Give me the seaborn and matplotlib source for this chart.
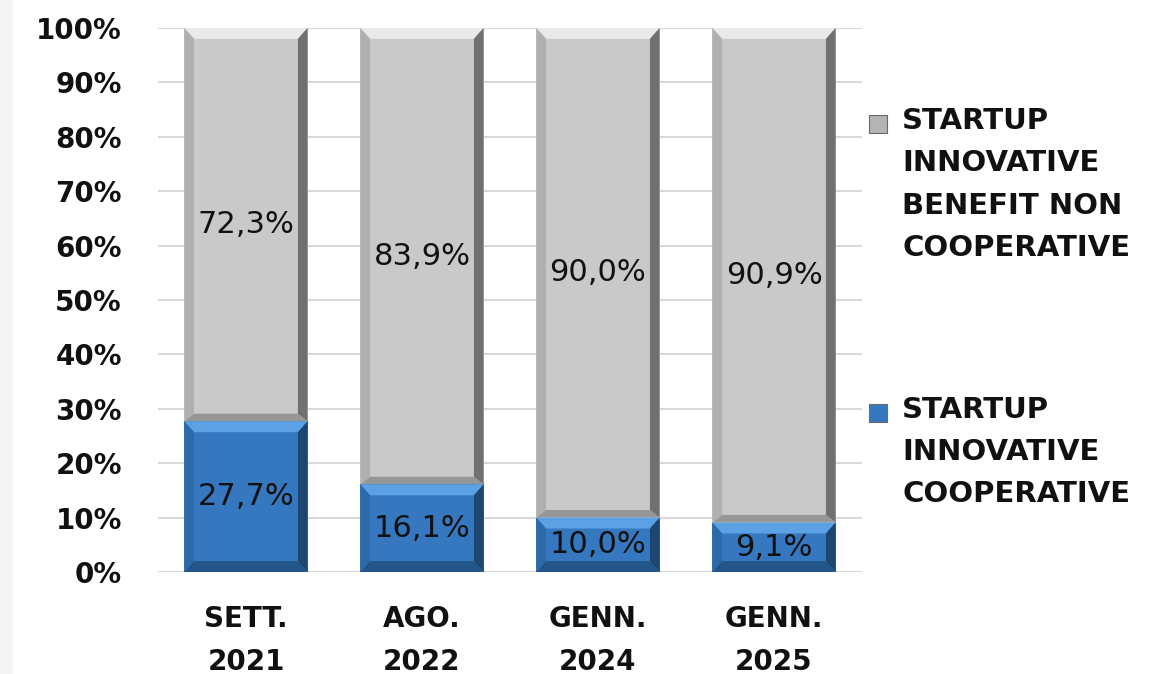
import numpy as np
import pandas as pd
import matplotlib
matplotlib.use("Agg")
import matplotlib.pyplot as plt
import seaborn as sns
from matplotlib.patches import Polygon, Rectangle
from matplotlib.ticker import FuncFormatter

# ── Data ─────────────────────────────────────────────────────────────
periods     = ["SETT.\n2021", "AGO.\n2022", "GENN.\n2024", "GENN.\n2025"]
coop        = [27.7, 16.1, 10.0, 9.1]
non_coop    = [72.3, 83.9, 90.0, 90.9]
label_coop  = "STARTUP\nINNOVATIVE\nCOOPERATIVE"
label_non   = "STARTUP\nINNOVATIVE\nBENEFIT NON\nCOOPERATIVE"

GRAY  = "#c9c9c9"
BLUE  = "#3578c0"

df = pd.DataFrame({"period": periods, "coop": coop, "non_coop": non_coop})
df["total"] = df["coop"] + df["non_coop"]

sns.set_theme(style="white")
plt.rcParams["font.family"] = ["DejaVu Sans"]

fig = plt.figure(figsize=(11.58, 6.74), dpi=100)
fig.patch.set_facecolor("white")
# light strip on the left edge of the picture
fig.patches.append(Rectangle((0, 0), 13 / 1158, 1, transform=fig.transFigure,
                             facecolor="#f4f4f4", edgecolor="none", zorder=-1))
ax = fig.add_axes([0.1364, 0.1513, 0.608, 0.8072])

# stacked bars: full total in gray, cooperative share in blue on top of it
sns.barplot(data=df, x="period", y="total", color=GRAY, width=0.70,
            saturation=1, edgecolor="none", ax=ax, zorder=2)
sns.barplot(data=df, x="period", y="coop", color=BLUE, width=0.70,
            saturation=1, edgecolor="none", ax=ax, zorder=3)


def bevel(ax, x0, w, y0, y1, light, dark, side, bottom, z, by_bot=2.0):
    bx, by = 0.055, 2.0
    x1 = x0 + w
    polys = [
        ([(x0, y1), (x1, y1), (x1 - bx, y1 - by), (x0 + bx, y1 - by)], light, 0.9),
        ([(x1, y1), (x1, y0), (x1 - bx, y0 + by_bot), (x1 - bx, y1 - by)], dark, 0.9),
        ([(x0, y0), (x1, y0), (x1 - bx, y0 + by_bot), (x0 + bx, y0 + by_bot)], bottom, 0.85),
        ([(x0, y1), (x0, y0), (x0 + bx, y0 + by_bot), (x0 + bx, y1 - by)], side, 0.6),
    ]
    for pts, c, a in polys:
        ax.add_patch(Polygon(pts, closed=True, facecolor=c, edgecolor="none",
                             alpha=a, zorder=z))


gray_bars = ax.containers[0]
blue_bars = ax.containers[1]
for i, (pg, pb) in enumerate(zip(gray_bars, blue_bars)):
    x0, w = pg.get_x(), pg.get_width()
    y_mid = pb.get_height()
    y_top = pg.get_height()
    bevel(ax, x0, w, y_mid, y_top, "#eeeeee", "#666666", "#a0a0a0", "#8e8e8e", 4, by_bot=1.4)
    bevel(ax, x0, w, 0, y_mid, "#62a6ea", "#1a406a", "#2a5f98", "#224f80", 4)
    ax.text(x0 + w / 2, y_mid + non_coop[i] / 2, f"{non_coop[i]:.1f}%".replace(".", ","),
            ha="center", va="center", fontsize=22, color="#111111", zorder=6)
    ax.text(x0 + w / 2, coop[i] / 2, f"{coop[i]:.1f}%".replace(".", ","),
            ha="center", va="center", fontsize=22, color="#111111", zorder=6)

ax.set_xlim(-0.5, 3.5)
ax.set_ylim(0, 100)
ax.set_yticks(np.arange(0, 101, 10))
ax.yaxis.set_major_formatter(FuncFormatter(lambda v, _: f"{v:.0f}%"))
ax.grid(axis="y", color="#d9d9d9", linewidth=1.5, zorder=0)
ax.set_axisbelow(True)
ax.set_xlabel("")
ax.set_ylabel("")
sns.despine(ax=ax, left=True, bottom=True)
ax.tick_params(axis="y", length=0, pad=26, labelsize=20)
ax.tick_params(axis="x", length=0, pad=24, labelsize=20)
for t in ax.get_yticklabels() + ax.get_xticklabels():
    t.set_fontweight("bold")
    t.set_color("#111111")
for t in ax.get_xticklabels():
    t.set_linespacing(1.68)

# legend, drawn beside the plot
for label, color, ytop in [(label_non, "#b4b4b4", 0.841), (label_coop, BLUE, 0.413)]:
    fig.text(0.779, ytop, label, ha="left", va="top", fontsize=21,
             fontweight="bold", color="#111111", linespacing=1.65)
    fig.patches.append(Rectangle((869 / 1158, ytop - 26 / 674), 18 / 1158, 18 / 674,
                                 transform=fig.transFigure, facecolor=color,
                                 edgecolor="#6a6a6a", linewidth=0.8))

fig.savefig("out.png", dpi=100)
